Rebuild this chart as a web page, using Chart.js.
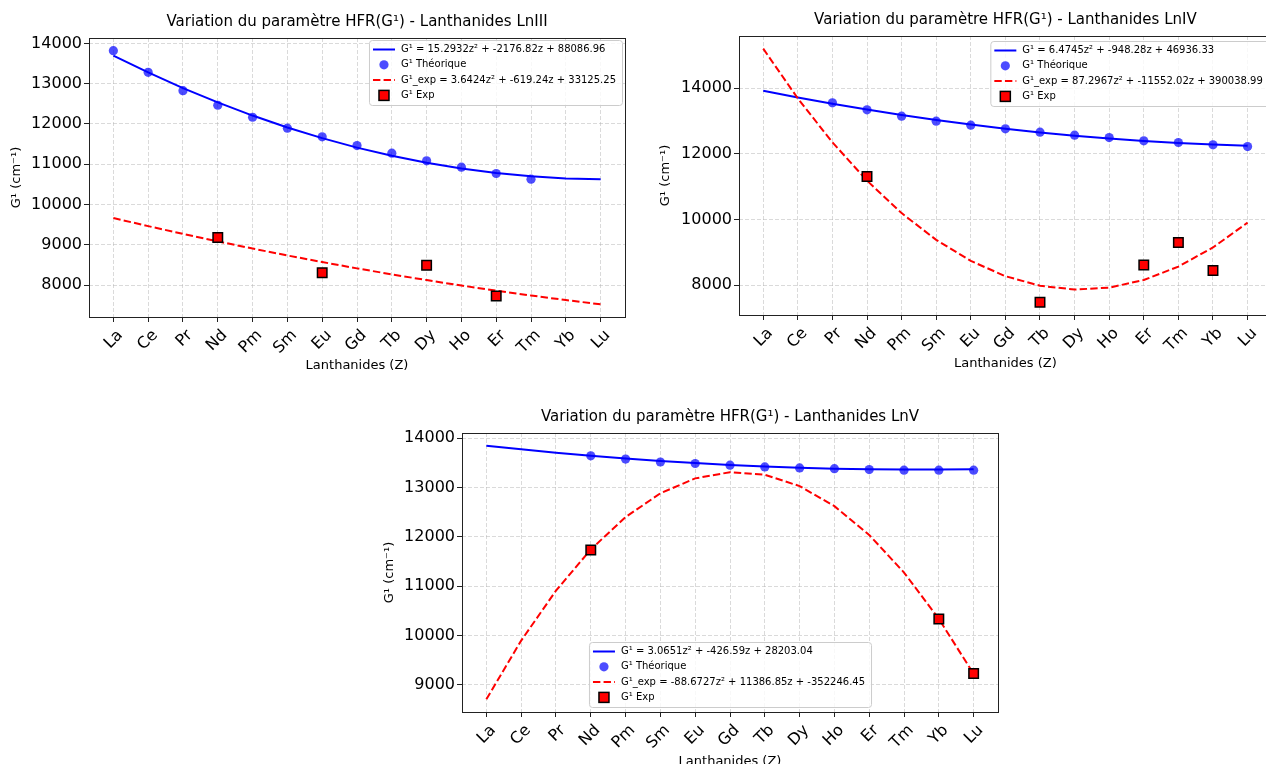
<!DOCTYPE html>
<html>
<head>
<meta charset="utf-8">
<script src="https://cdn.jsdelivr.net/npm/chart.js@4.4.1/dist/chart.umd.min.js"></script>
<style>
  html, body { margin: 0; padding: 0; background: #fff; }
  body { width: 1266px; height: 764px; overflow: hidden; position: relative; }
  canvas { position: absolute; }
</style>
</head>
<body>
<canvas id="lnIII" width="640" height="382" style="left:0px;top:0px"></canvas>
<canvas id="lnIV" width="640" height="380" style="left:640px;top:0px"></canvas>
<canvas id="lnV" width="640" height="382" style="left:370px;top:396px"></canvas>
<script>
const elements = ['La', 'Ce', 'Pr', 'Nd', 'Pm', 'Sm', 'Eu', 'Gd', 'Tb', 'Dy', 'Ho', 'Er', 'Tm', 'Yb', 'Lu'];

// LnIII
const lnIIIFit = [13695.8, 13277.7, 12890.2, 12533.3, 12206.9, 11911.2, 11646.0, 11411.4, 11207.4, 11034.0, 10891.2, 10779.0, 10697.3, 10646.3, 10625.8];
const lnIIITheo = [13818, 13281, 12826, 12463, 12165, 11893, 11678, 11463, 11273, 11083, 10926, 10769, 10628, null, null];
const lnIIIExpFit = [9662.7, 9462.4, 9269.3, 9083.5, 8905.0, 8733.8, 8569.8, 8413.2, 8263.8, 8121.7, 7986.9, 7859.4, 7739.1, 7626.2, 7520.5];
const lnIIIExp = [null, null, null, 9182, null, null, 8306, null, null, 8488, null, 7727, null, null, null];
const lnIIITicks = [8000, 9000, 10000, 11000, 12000, 13000, 14000];

// LnIV
const lnIVFit = [13920.0, 13716.3, 13525.6, 13347.7, 13182.9, 13031.0, 12892.0, 12766.0, 12652.9, 12552.8, 12465.7, 12391.4, 12330.2, 12281.8, 12246.5];
const lnIVTheo = [null, null, 13553, 13340, 13147, 12995, 12873, 12761, 12660, 12569, 12497, 12396, 12345, 12274, 12223];
const lnIVExpFit = [15200.8, 13687.9, 12349.6, 11185.9, 10196.8, 9382.3, 8742.3, 8277.0, 7986.2, 7870.1, 7928.5, 8161.5, 8569.2, 9151.4, 9908.2];
const lnIVExp = [null, null, null, 11310, null, null, null, null, 7482, null, null, 8619, 9299, 8447, null];
const lnIVTicks = [8000, 10000, 12000, 14000];

// LnV
const lnVFit = [13845.9, 13771.8, 13703.9, 13642.0, 13586.3, 13536.7, 13493.3, 13456.0, 13424.8, 13399.7, 13380.8, 13368.0, 13361.3, 13360.8, 13366.4];
const lnVTheo = [null, null, null, 13640, 13575, 13515, 13485, 13450, 13415, 13395, 13380, 13362, 13350, 13350, 13350];
const lnVExpFit = [8706.4, 9895.9, 10908.0, 11742.8, 12400.3, 12880.4, 13183.2, 13308.6, 13256.6, 13027.4, 12620.8, 12036.8, 11275.5, 10336.8, 9220.8];
const lnVExp = [null, null, null, 11733, null, null, null, null, null, null, null, null, null, 10336, 9229];
const lnVTicks = [9000, 10000, 11000, 12000, 13000, 14000];

const FONT = '"DejaVu Sans", sans-serif';
Chart.defaults.font.family = FONT;
Chart.defaults.color = '#000';

const xy = arr => arr.map((y, i) => ({ x: i, y: y }));

function roundBox(ctx, x, y, w, h, r) {
  ctx.beginPath();
  ctx.moveTo(x + r, y);
  ctx.lineTo(x + w - r, y);
  ctx.arcTo(x + w, y, x + w, y + r, r);
  ctx.lineTo(x + w, y + h - r);
  ctx.arcTo(x + w, y + h, x + w - r, y + h, r);
  ctx.lineTo(x + r, y + h);
  ctx.arcTo(x, y + h, x, y + h - r, r);
  ctx.lineTo(x, y + r);
  ctx.arcTo(x, y, x + r, y, r);
  ctx.closePath();
}

// frame around the axes, title above it and the boxed legend inside it
const panelDecor = {
  id: 'panelDecor',
  afterDraw(chart, args, opts) {
    const { ctx, chartArea: a } = chart;
    ctx.save();

    ctx.strokeStyle = '#222';
    ctx.lineWidth = 1;
    ctx.setLineDash([]);
    const l = Math.round(a.left), t = Math.round(a.top);
    ctx.strokeRect(l + 0.5, t + 0.5, Math.round(a.right) - l, Math.round(a.bottom) - t);

    ctx.fillStyle = '#000';
    ctx.font = '15px ' + FONT;
    ctx.textAlign = 'center';
    ctx.textBaseline = 'middle';
    ctx.fillText(opts.title, (a.left + a.right) / 2, a.top - 16);

    const sets = chart.data.datasets;
    ctx.font = '10px ' + FONT;
    const textW = Math.max(...sets.map(d => ctx.measureText(d.label).width));
    const w = 32 + textW + 6, h = 65;
    let x, y;
    if (opts.where === 'lower center') {
      x = (a.left + a.right - w) / 2;
      y = a.bottom - opts.dy - h;
    } else {
      x = a.right - opts.dx - w;
      y = a.top + opts.dy;
    }
    roundBox(ctx, x + 0.5, y + 0.5, w, h, 3);
    ctx.fillStyle = 'rgba(255,255,255,0.8)';
    ctx.fill();
    ctx.strokeStyle = '#cccccc';
    ctx.stroke();

    sets.forEach((d, i) => {
      const ry = y + 9.5 + i * 15.3;
      if (d.showLine) {
        ctx.setLineDash(d.borderDash || []);
        ctx.strokeStyle = d.borderColor;
        ctx.lineWidth = d.borderWidth;
        ctx.beginPath();
        ctx.moveTo(x + 4, ry);
        ctx.lineTo(x + 26, ry);
        ctx.stroke();
        ctx.setLineDash([]);
      } else if (d.pointStyle === 'rect') {
        ctx.fillStyle = d.pointBackgroundColor;
        ctx.strokeStyle = d.pointBorderColor;
        ctx.lineWidth = d.pointBorderWidth;
        ctx.fillRect(x + 10, ry - 5, 10, 10);
        ctx.strokeRect(x + 10, ry - 5, 10, 10);
      } else {
        ctx.fillStyle = d.pointBackgroundColor;
        ctx.beginPath();
        ctx.arc(x + 15, ry, 4.6, 0, Math.PI * 2);
        ctx.fill();
      }
      ctx.fillStyle = '#000';
      ctx.textAlign = 'left';
      ctx.fillText(d.label, x + 32, ry);
    });
    ctx.restore();
  }
};

function makePanel(id, p) {
  const all = [...p.fit, ...p.theo, ...p.expFit, ...p.exp].filter(v => v !== null);
  const lo = Math.min(...all), hi = Math.max(...all);
  const yPad = (hi - lo) * 0.05;
  const xPad = (elements.length - 1) * 0.05;

  return new Chart(document.getElementById(id), {
    type: 'scatter',
    data: {
      datasets: [
        { label: p.fitLabel, data: xy(p.fit), showLine: true, borderColor: '#0000ff', borderWidth: 2, pointRadius: 0, order: 4 },
        { label: 'G¹ Théorique', data: xy(p.theo), pointStyle: 'circle', pointBackgroundColor: 'rgba(0,0,255,0.7)', pointBorderWidth: 0, pointRadius: 4.6, order: 3 },
        { label: p.expFitLabel, data: xy(p.expFit), showLine: true, borderColor: '#ff0000', borderWidth: 2, borderDash: [7.4, 3.2], pointRadius: 0, order: 2 },
        { label: 'G¹ Exp', data: xy(p.exp), pointStyle: 'rect', pointBackgroundColor: '#ff0000', pointBorderColor: '#000', pointBorderWidth: 1.5, pointRadius: 6.7, order: 1 }
      ]
    },
    options: {
      responsive: false,
      animation: false,
      devicePixelRatio: 1,
      events: [],
      layout: { padding: { left: 0, top: p.padTop, right: p.padRight, bottom: 0 } },
      plugins: {
        legend: { display: false },
        tooltip: { enabled: false },
        panelDecor: { title: p.title, where: p.where, dx: p.dx, dy: p.dy }
      },
      scales: {
        x: {
          type: 'linear',
          min: -xPad,
          max: elements.length - 1 + xPad,
          afterBuildTicks: s => { s.ticks = elements.map((e, i) => ({ value: i })); },
          afterFit: s => { s.height = p.xHeight; },
          ticks: {
            autoSkip: false,
            minRotation: 45,
            maxRotation: 45,
            labelOffset: 7,
            padding: 4,
            font: { size: 16 },
            color: '#000',
            callback: v => elements[v]
          },
          grid: { color: 'rgba(176,176,176,0.6)', lineWidth: 0.8, tickColor: '#222', tickLength: 5, tickWidth: 1, tickBorderDash: [] },
          border: { display: false, dash: [4, 2] },
          title: { display: true, text: 'Lanthanides (Z)', font: { size: 13 }, color: '#000', padding: { top: 0, bottom: 9 } }
        },
        y: {
          min: lo - yPad,
          max: hi + yPad,
          afterBuildTicks: s => { s.ticks = p.ticks.map(v => ({ value: v })); },
          afterFit: s => { s.width = p.yWidth; },
          ticks: { font: { size: 16 }, color: '#000', padding: 2, callback: v => String(v) },
          grid: { color: 'rgba(176,176,176,0.6)', lineWidth: 0.8, tickColor: '#222', tickLength: 5, tickWidth: 1, tickBorderDash: [] },
          border: { display: false, dash: [4, 2] },
          title: { display: true, text: 'G¹ (cm⁻¹)', font: { size: 13 }, color: '#000', padding: { top: p.yTitlePad, bottom: 0 } }
        }
      }
    },
    plugins: [panelDecor]
  });
}

makePanel('lnIII', {
  title: 'Variation du paramètre HFR(G¹) - Lanthanides LnIII',
  fit: lnIIIFit, theo: lnIIITheo, expFit: lnIIIExpFit, exp: lnIIIExp, ticks: lnIIITicks,
  fitLabel: 'G¹ = 15.2932z² + -2176.82z + 88086.96',
  expFitLabel: 'G¹_exp = 3.6424z² + -619.24z + 33125.25',
  yWidth: 89, padTop: 38, padRight: 15, xHeight: 65, yTitlePad: 9,
  where: 'upper right', dx: 3, dy: 2
});

makePanel('lnIV', {
  title: 'Variation du paramètre HFR(G¹) - Lanthanides LnIV',
  fit: lnIVFit, theo: lnIVTheo, expFit: lnIVExpFit, exp: lnIVExp, ticks: lnIVTicks,
  fitLabel: 'G¹ = 6.4745z² + -948.28z + 46936.33',
  expFitLabel: 'G¹_exp = 87.2967z² + -11552.02z + 390038.99',
  yWidth: 99, padTop: 36, padRight: 5, xHeight: 65, yTitlePad: 18,
  where: 'upper right', dx: 3, dy: 5
});

makePanel('lnV', {
  title: 'Variation du paramètre HFR(G¹) - Lanthanides LnV',
  fit: lnVFit, theo: lnVTheo, expFit: lnVExpFit, exp: lnVExp, ticks: lnVTicks,
  fitLabel: 'G¹ = 3.0651z² + -426.59z + 28203.04',
  expFitLabel: 'G¹_exp = -88.6727z² + 11386.85z + -352246.45',
  yWidth: 92, padTop: 37, padRight: 12, xHeight: 66, yTitlePad: 12,
  where: 'lower center', dx: 0, dy: 5
});
</script>
</body>
</html>
